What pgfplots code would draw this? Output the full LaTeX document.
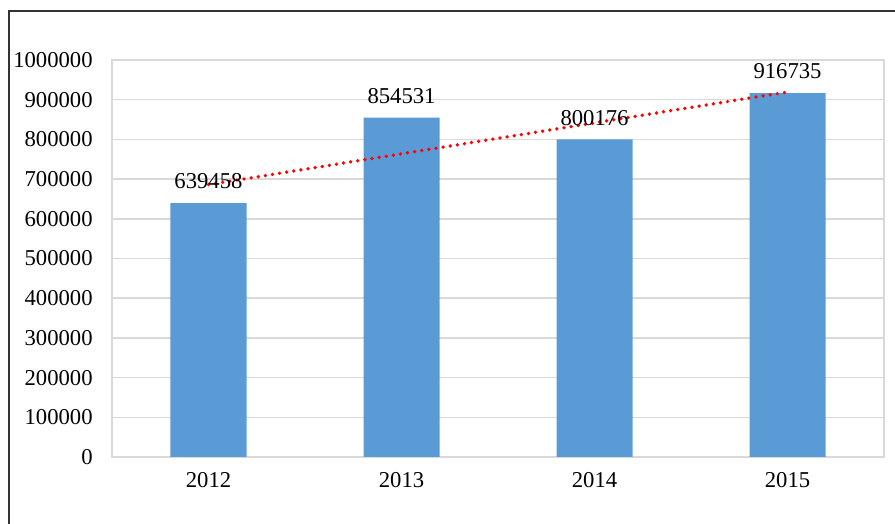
\documentclass[border=0pt]{standalone}
\usepackage{pgfplots}
\pgfplotsset{compat=1.18}
\usepackage{fontspec}
\setmainfont{Liberation Serif}
\definecolor{barblue}{HTML}{5B9BD5}
\definecolor{gridgray}{HTML}{D9D9D9}
\begin{document}
\begin{tikzpicture}
\useasboundingbox (-84pt,-50.25pt) rectangle (587.25pt,342.75pt);
\draw[line width=1pt, black!80] (-77.25pt,-60pt) -- (-77.25pt,334.5pt) -- (600pt,334.5pt);
\begin{axis}[
  scale only axis,
  width=579pt, height=297.75pt,
  xmin=-0.5, xmax=3.5,
  ymin=0, ymax=1000000,
  xtick={0,1,2,3},
  xticklabels={2012,2013,2014,2015},
  ytick={0,100000,...,1000000},
  scaled y ticks=false,
  yticklabel style={/pgf/number format/fixed, /pgf/number format/1000 sep={}},
  /pgf/number format/assume math mode=true,
  ticklabel style={font=\fontsize{17}{19}\selectfont},
  major tick length=0pt,
  ymajorgrids,
  grid style={gridgray, line width=1.1pt},
  axis line style={gridgray, line width=1.1pt},
  yticklabel shift=11pt,
  xticklabel shift=8pt,
  clip=false,
]
\addplot[ybar, bar width=57pt, fill=barblue, draw=none,
  nodes near coords,
  nodes near coords style={font=\fontsize{17}{19}\selectfont, black, yshift=7pt},
  point meta=explicit symbolic]
  coordinates {(0,639458)[639458] (1,854531)[854531] (2,800176)[800176] (3,916735)[916735]};
\addplot[red, line width=2.8pt, line cap=round, dash pattern=on 0pt off 5.4pt]
  coordinates {(0,686104) (3,919346)};
\end{axis}
\end{tikzpicture}
\end{document}
